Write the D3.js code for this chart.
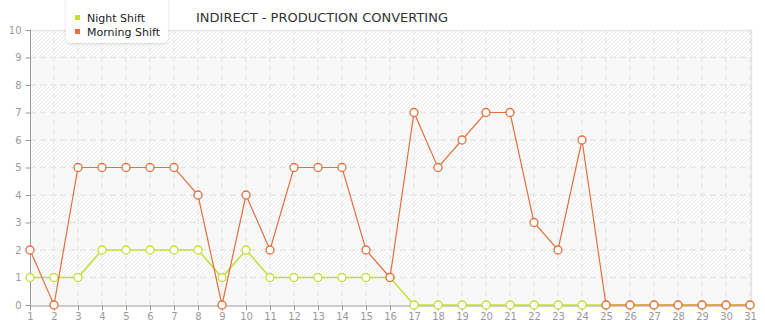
<!DOCTYPE html>
<html lang="en">
<head>
<meta charset="UTF-8">
<title>INDIRECT - PRODUCTION CONVERTING</title>
<script src="https://d3js.org/d3.v7.min.js"></script>
<style>
  * { margin: 0; padding: 0; box-sizing: border-box; }
  body { background: #fff; font-family: 'DejaVu Sans', Verdana, sans-serif; }
  svg { display: block; }
</style>
</head>
<body>
<svg id="chart" width="765" height="320"></svg>
<script>
var days = d3.range(1, 32);
var nightShift = [1, 1, 1, 2, 2, 2, 2, 2, 1, 2, 1, 1, 1, 1, 1, 1, 0, 0, 0, 0, 0, 0, 0, 0, 0, 0, 0, 0, 0, 0, 0];
var morningShift = [2, 0, 5, 5, 5, 5, 5, 4, 0, 4, 2, 5, 5, 5, 2, 1, 7, 5, 6, 7, 7, 3, 2, 6, 0, 0, 0, 0, 0, 0, 0];
var yTicks = d3.range(0, 11);
var seriesNames = ['Night Shift', 'Morning Shift'];
var seriesColors = ['#c3df3a', '#e2703f'];

var margin = { top: 30, right: 14, bottom: 15, left: 30 };
var width = 765, height = 320;
var svg = d3.select('#chart');

var x = d3.scaleLinear().domain([1, 31]).range([margin.left, width - 15]);
var y = d3.scaleLinear().domain([0, 10]).range([height - margin.bottom, margin.top]);
var plotRight = 751;

// hatch pattern
var defs = svg.append('defs');
var pat = defs.append('pattern')
  .attr('id', 'hatch').attr('patternUnits', 'userSpaceOnUse')
  .attr('width', 4).attr('height', 4);
pat.append('rect').attr('width', 4).attr('height', 4).attr('fill', '#fdfdfd');
pat.append('path').attr('d', 'M-1,1 l2,-2 M0,4 l4,-4 M3,5 l2,-2')
  .attr('stroke', '#ebebeb').attr('stroke-width', 1);

// bands
svg.append('g').selectAll('rect')
  .data(yTicks.slice(0, 10))
  .join('rect')
  .attr('x', margin.left).attr('width', plotRight - margin.left)
  .attr('y', function(d) { return y(d + 1); })
  .attr('height', function(d) { return y(d) - y(d + 1); })
  .attr('fill', function(d) { return d % 2 === 1 ? 'url(#hatch)' : '#f8f8f8'; });

// grid
svg.append('g').selectAll('line')
  .data(days.slice(1))
  .join('line')
  .attr('x1', function(d) { return x(d); }).attr('x2', function(d) { return x(d); })
  .attr('y1', y(10)).attr('y2', y(0))
  .attr('stroke', '#e2e2e2').attr('stroke-dasharray', '5,4');
svg.append('g').selectAll('line')
  .data(yTicks.slice(1, 10))
  .join('line')
  .attr('x1', margin.left).attr('x2', plotRight)
  .attr('y1', function(d) { return y(d); }).attr('y2', function(d) { return y(d); })
  .attr('stroke', '#e6e6e6').attr('stroke-width', 1.5).attr('stroke-dasharray', '6,4');

// border top/right
svg.append('path')
  .attr('d', 'M' + margin.left + ',' + (y(10) + 0.5) + 'H' + (plotRight + 0.5) + 'V' + y(0))
  .attr('fill', 'none').attr('stroke', '#e4e4e4').attr('stroke-width', 1.5);

// axes
var yAxis = svg.append('g')
  .attr('transform', 'translate(' + (margin.left + 0.5) + ',0)')
  .call(d3.axisLeft(y).tickValues(yTicks).tickSize(5).tickPadding(4));
var xAxis = svg.append('g')
  .attr('transform', 'translate(0,' + (y(0) + 0.5) + ')')
  .call(d3.axisBottom(x).tickValues(days).tickSize(5).tickPadding(2).tickSizeOuter(0));
[yAxis, xAxis].forEach(function(a) {
  a.select('.domain').attr('stroke', '#999');
  a.selectAll('.tick line').attr('stroke', '#999');
  a.selectAll('.tick text').attr('fill', '#999').style('font-family', "'DejaVu Sans', Verdana, sans-serif").style('font-size', '10px');
});
yAxis.select('.domain').attr('d', 'M0,' + y(10) + 'V' + y(0));

// series
var allSeries = [nightShift, morningShift];
var line = d3.line().x(function(d, i) { return x(days[i]); }).y(function(d) { return y(d); });
allSeries.forEach(function(vals, si) {
  var g = svg.append('g');
  g.append('path').datum(vals).attr('d', line)
    .attr('fill', 'none').attr('stroke', seriesColors[si]).attr('stroke-width', si === 0 ? 1.5 : 1.2);
  g.selectAll('circle').data(vals).join('circle')
    .attr('cx', function(d, i) { return x(days[i]); })
    .attr('cy', function(d) { return y(d); })
    .attr('r', 4)
    .attr('fill', '#fff').attr('stroke', seriesColors[si]).attr('stroke-width', 1.3);
});

// title
svg.append('text')
  .attr('x', 322).attr('y', 22).attr('text-anchor', 'middle')
  .attr('fill', '#333').style('font-size', '13px')
  .text('INDIRECT - PRODUCTION CONVERTING');

// legend
var shadow = defs.append('filter').attr('id', 'shadow').attr('x', '-20%').attr('y', '-20%').attr('width', '140%').attr('height', '160%');
shadow.append('feDropShadow').attr('dx', 0).attr('dy', 1).attr('stdDeviation', 1.5).attr('flood-color', '#000').attr('flood-opacity', 0.15);
var legend = svg.append('g');
legend.append('rect').attr('x', 66).attr('y', -6).attr('width', 102).attr('height', 49).attr('rx', 5)
  .attr('fill', '#fff').attr('filter', 'url(#shadow)');
var items = legend.selectAll('g.item').data(seriesNames).join('g').attr('class', 'item')
  .attr('transform', function(d, i) { return 'translate(75,' + (18 + i * 14) + ')'; });
items.append('rect').attr('x', 0).attr('y', -3).attr('width', 5).attr('height', 5)
  .attr('fill', function(d, i) { return seriesColors[i]; });
items.append('text').attr('x', 12).attr('y', 4).attr('fill', '#222').style('font-size', '11px')
  .text(function(d) { return d; });
</script>
</body>
</html>
